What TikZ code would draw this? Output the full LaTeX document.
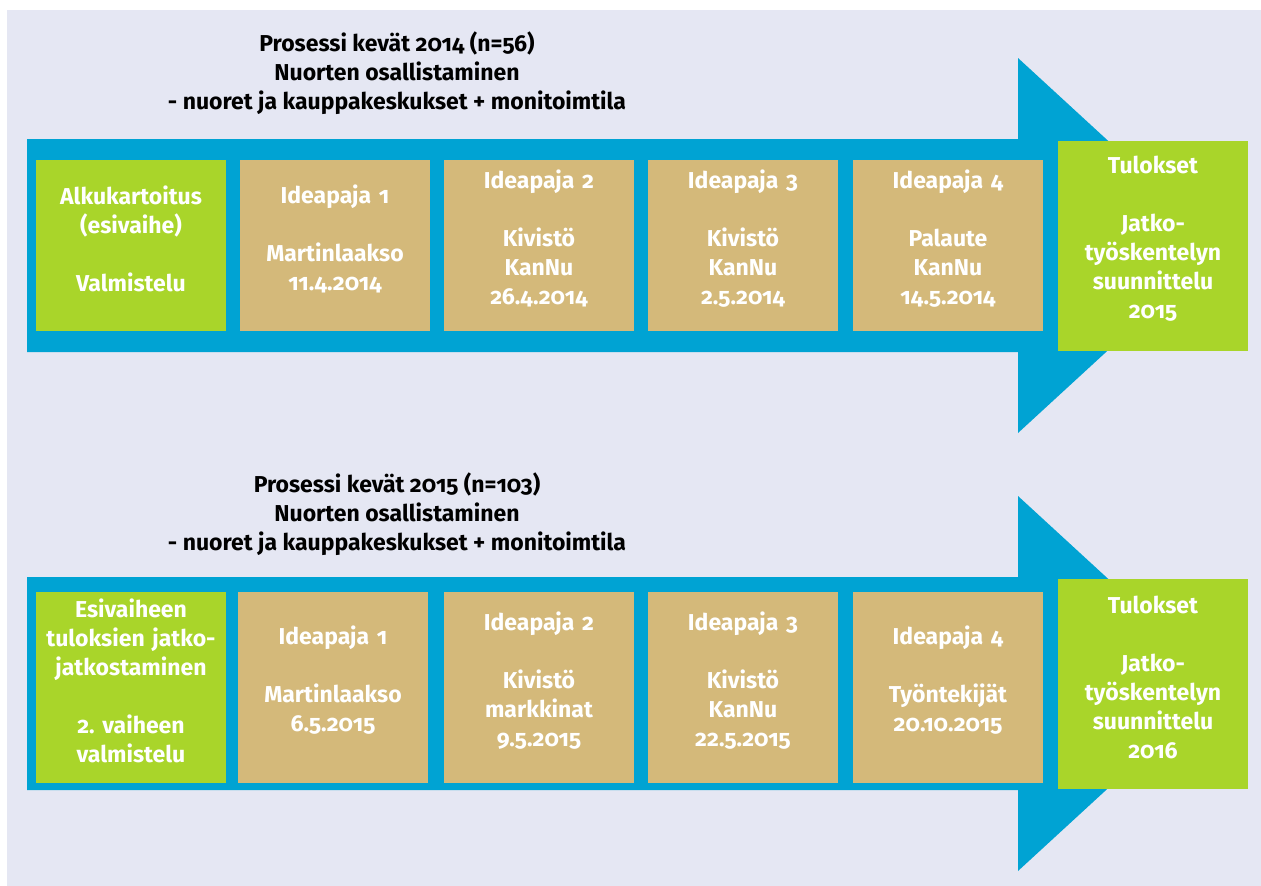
\documentclass[tikz,border=0pt]{standalone}
\usepackage{fontspec}
\setmainfont{Fira Sans}[RawFeature=+onum]
\definecolor{bgc}{HTML}{E5E7F3}
\definecolor{arrc}{HTML}{00A3D3}
\definecolor{tanc}{HTML}{D4B97A}
\definecolor{grc}{HTML}{A9D52A}
\frenchspacing
\begin{document}
\begin{tikzpicture}[x=1pt,y=-1pt,
    txt/.style={font=\bfseries\fontsize{23}{29}\selectfont,align=center},
    lbl/.style={txt,text=white,inner sep=0pt,text width=190pt},
    box/.style={inner sep=0pt,minimum width=190pt},
    tan/.style={box,fill=tanc},
    grn/.style={box,fill=grc}]
  \useasboundingbox (0,0) rectangle (1261,886);
  \fill[bgc] (7,10) rectangle (1261,886);
  \foreach \d in {0,438}
    \fill[arrc] (27,139+\d) -- (1018,139+\d) -- (1018,58+\d) -- (1222,245.5+\d) -- (1018,433+\d) -- (1018,352+\d) -- (27,352+\d) -- cycle;
  \node[txt] (title1) at (397,73) {Prosessi kevät 2014 (n=56)\\Nuorten osallistaminen\\- nuoret ja kauppakeskukset + monitoimtila};
  \node[txt] (title2) at (397,514) {Prosessi kevät 2015 (n=103)\\Nuorten osallistaminen\\- nuoret ja kauppakeskukset + monitoimtila};
  \foreach \n/\x/\s/\t in {
      a1/131/grn/{Alkukartoitus\\(esivaihe)\\[29pt]Valmistelu},
      a2/335/tan/{Ideapaja 1\\[29pt]Martinlaakso\\11.4.2014},
      a3/539/tan/{Ideapaja 2\\[29pt]Kivistö\\KanNu\\26.4.2014},
      a4/743/tan/{Ideapaja 3\\[29pt]Kivistö\\KanNu\\2.5.2014},
      a5/948/tan/{Ideapaja 4\\[29pt]Palaute\\KanNu\\14.5.2014}}
    {\node[\s,minimum height=171pt] (\n) at (\x,245.5) {};
     \node[lbl] (\n t) at ([yshift=7pt]\n.center) {\t};}
  \foreach \n/\x/\s/\t in {
      b1/131/grn/{Esivaiheen\\tuloksien jatko-\\jatkostaminen\\[29pt]2. vaiheen\\valmistelu},
      b2/333/tan/{Ideapaja 1\\[29pt]Martinlaakso\\6.5.2015},
      b3/539/tan/{Ideapaja 2\\[29pt]Kivistö\\markkinat\\9.5.2015},
      b4/743/tan/{Ideapaja 3\\[29pt]Kivistö\\KanNu\\22.5.2015},
      b5/948/tan/{Ideapaja 4\\[29pt]Työntekijät\\20.10.2015}}
    {\node[\s,minimum height=191pt] (\n) at (\x,687.5) {};
     \node[lbl] (\n t) at ([yshift=7pt]\n.center) {\t};}
  \foreach \n/\y/\t in {r1/246/2015,r2/684/2016}
    {\node[grn,minimum height=210pt] (\n) at (1153,\y) {};
     \node[lbl] (\n t) at ([yshift=7pt]\n.center) {Tulokset\\[29pt]Jatko-\\työskentelyn\\suunnittelu\\\t};}
\end{tikzpicture}
\end{document}
